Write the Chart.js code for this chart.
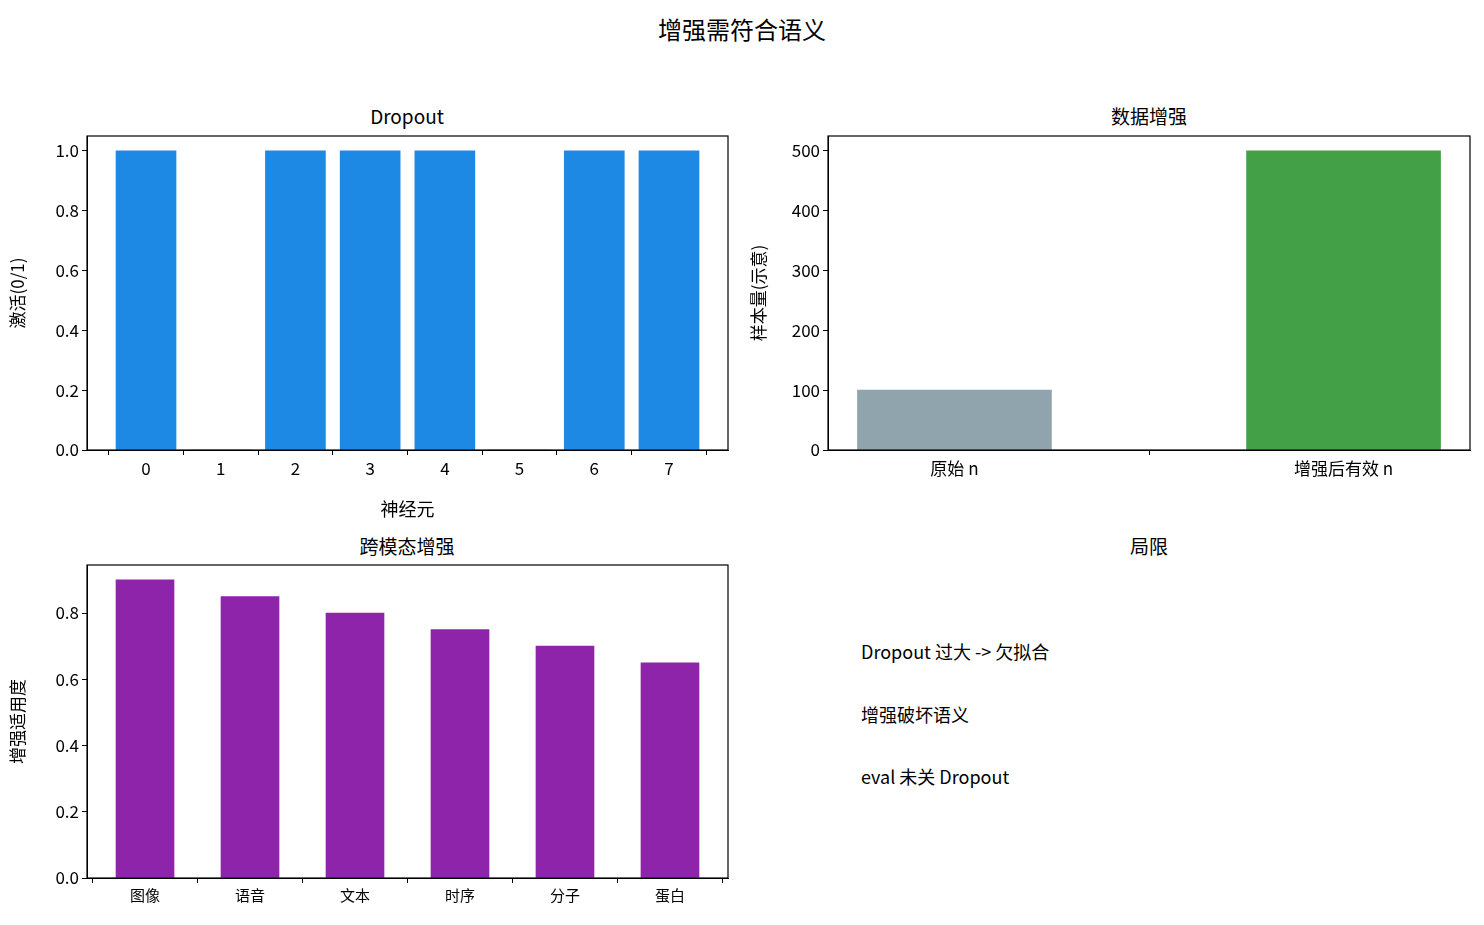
<!DOCTYPE html>
<html><head><meta charset="utf-8">
<script src="https://cdn.jsdelivr.net/npm/chart.js@4"></script>
<style>
body{margin:0;background:#fff;width:1484px;height:925px;position:relative;overflow:hidden;font-family:"Noto Sans CJK SC","DejaVu Sans",sans-serif;color:#000}
canvas,.t{position:absolute}
.t{transform:translate(-50%,-50%);white-space:nowrap;font-size:19px}
.n{position:absolute;font-size:18px;transform:translateY(-50%)}
</style></head><body>
<div class="t" style="left:742px;top:28px;font-size:24px">增强需符合语义</div>
<div class="t" style="left:407px;top:115px">Dropout</div>
<div class="t" style="left:1149px;top:115px">数据增强</div>
<div class="t" style="left:407px;top:545px">跨模态增强</div>
<div class="t" style="left:1149px;top:545px">局限</div>
<div class="n" style="left:861px;top:651px">Dropout 过大 -&gt; 欠拟合</div>
<div class="n" style="left:861px;top:714px">增强破坏语义</div>
<div class="n" style="left:861px;top:776px">eval 未关 Dropout</div>
<canvas id="c1"></canvas><canvas id="c2"></canvas><canvas id="c3"></canvas>
<script>
const neurons = ['0','1','2','3','4','5','6','7'];
const mask = [1, 0, 1, 1, 1, 0, 1, 1];
const augLabels = ['原始 n', '增强后有效 n'];
const augValues = [100, 500];
const modalities = ['图像', '语音', '文本', '时序', '分子', '蛋白'];
const suitability = [0.9, 0.85, 0.8, 0.75, 0.7, 0.65];

const FONT = '"Noto Sans CJK SC", "DejaVu Sans", sans-serif';
const frame = {
  id: 'frame',
  afterDraw(c) {
    const a = c.chartArea, x = c.ctx;
    x.save(); x.strokeStyle = '#000'; x.lineWidth = 1.2;
    x.strokeRect(a.left, a.top, a.right - a.left, a.bottom - a.top);
    x.restore();
  }
};

function make(id, L, T, W, H, o) {
  const cv = document.getElementById(id);
  cv.style.left = (L - 80) + 'px'; cv.style.top = (T - 50) + 'px';
  cv.width = W + 100; cv.height = H + 120;
  cv.style.width = cv.width + 'px'; cv.style.height = cv.height + 'px';
  const pts = o.values.map((v, i) => ({x: i, y: v}));
  new Chart(cv, {
    type: 'bar',
    data: {datasets: [{data: pts, backgroundColor: o.colors, barThickness: o.bw}]},
    options: {
      responsive: false, animation: false,
      layout: {padding: {top: 50, right: 20, left: 0, bottom: 0}},
      plugins: {legend: {display: false}, tooltip: {enabled: false}},
      scales: {
        x: {
          type: 'linear', min: o.xmin, max: o.xmax, offset: false,
          afterFit(s) { s.height = 70; },
          afterBuildTicks(s) { s.ticks = o.labels.map((_, i) => ({value: i})); },
          ticks: {callback: v => o.labels[v], color: '#000', font: {family: FONT, size: o.xfs || 17}, maxRotation: 0, autoSkip: false},
          grid: {drawOnChartArea: false, color: '#000', tickLength: 5},
          border: {color: '#000'},
          title: {display: !!o.xtitle, text: o.xtitle, color: '#000', font: {family: FONT, size: 18}, padding: 0}
        },
        y: {
          min: 0, max: o.ymax,
          afterFit(s) { s.width = 80; },
          afterBuildTicks(s) { s.ticks = o.yticks.map(v => ({value: v})); },
          ticks: {callback: o.yfmt, color: '#000', font: {family: FONT, size: 17}},
          grid: {drawOnChartArea: false, color: '#000', tickLength: 5},
          border: {color: '#000'},
          title: {display: true, text: o.ytitle, color: '#000', font: {family: FONT, size: 17}, padding: 0}
        }
      }
    },
    plugins: [frame]
  });
}

make('c1', 87, 136, 641, 314, {
  values: mask, labels: neurons, colors: '#1E88E5', bw: 60,
  xmin: -0.79, xmax: 7.79, ymax: 1.05, yticks: [0, 0.2, 0.4, 0.6, 0.8, 1.0],
  yfmt: v => v.toFixed(1), xtitle: '神经元', ytitle: '激活(0/1)'
});
make('c2', 828, 136, 642, 314, {
  values: augValues, labels: augLabels, colors: ['#90A4AE', '#43A047'], bw: 194,
  xmin: -0.325, xmax: 1.325, ymax: 525, yticks: [0, 100, 200, 300, 400, 500],
  yfmt: v => String(v), ytitle: '样本量(示意)'
});
make('c3', 87, 565, 641, 313, {
  values: suitability, labels: modalities, colors: '#8E24AA', bw: 58, xfs: 15,
  xmin: -0.5525, xmax: 5.5525, ymax: 0.945, yticks: [0, 0.2, 0.4, 0.6, 0.8],
  yfmt: v => v.toFixed(1), ytitle: '增强适用度'
});
</script>
</body></html>
